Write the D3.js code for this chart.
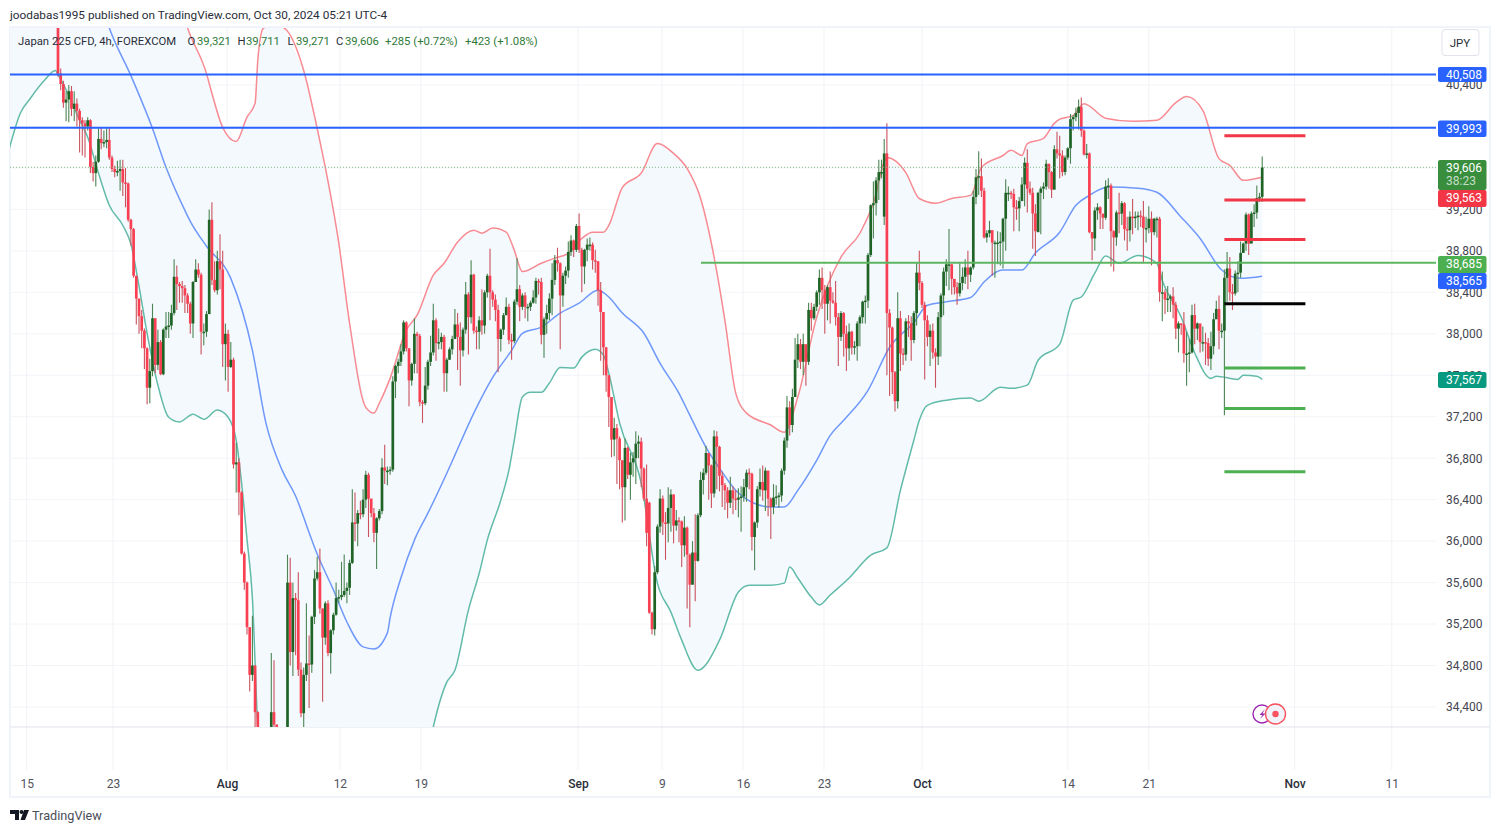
<!DOCTYPE html>
<html>
<head>
<meta charset="utf-8">
<script src="https://cdn.jsdelivr.net/npm/d3@7"></script>
<style>
  html, body { margin: 0; padding: 0; background: #fff; }
  svg { display: block; font-family: Roboto, sans-serif; }
</style>
</head>
<body>
<svg id="chart" width="1500" height="832"></svg>
<script>
// 4h closes, one row per 10 bars
var closes = [
  40510,40410,40230,40260,40340,40170,40220,40150,40060,40030,
  40000,40060,39610,39550,39660,39880,39840,39850,39870,39700,
  39590,39560,39570,39590,39460,39450,39100,39010,38560,38340,
  38170,38030,37860,37480,37640,38150,37700,37920,37610,38040,
  38070,38080,38200,38550,38480,38460,38440,38370,38290,38100,
  38500,38620,38570,38020,38020,38190,39100,38520,38420,38700,
  38620,37900,38000,37680,37750,36740,36760,36470,35880,35600,
  35170,34710,34800,34350,34100,33900,33700,33600,33800,34350,
  34230,34050,33900,33700,33650,35600,34930,35450,35430,34760,
  34340,34710,34820,34810,35270,35640,35700,35350,35070,35400,
  34920,35140,35290,35450,35460,35480,35520,35550,35790,36180,
  36170,36270,36260,36400,36640,36410,36270,36080,36220,36290,
  36710,36680,36680,36690,37540,37690,37730,37830,38110,37860,
  37550,37710,38000,37980,37340,37330,37500,37730,37820,38130,
  37910,37920,37970,37620,37750,37850,37950,38090,37970,37840,
  38040,38380,38160,38570,38030,38020,38130,38080,38400,38560,
  38400,38330,38230,37950,38040,38180,38260,37940,37930,38310,
  38430,38260,38370,38260,38260,38300,38350,38510,38500,37990,
  38140,38200,38340,38520,38710,38680,38370,38560,38610,38790,
  38900,38810,39040,38810,38650,38810,38860,38860,38710,38700,
  38420,38210,37870,37600,37390,36980,37090,36990,36780,36520,
  36900,36640,36760,36800,36940,36960,36700,36410,36080,35310,
  35150,35700,36140,36410,36180,36170,36320,36450,36150,36200,
  36190,35960,36130,35870,35580,35890,35810,36250,36590,36660,
  36850,36730,36460,37010,36910,36630,36540,36490,36370,36490,
  36410,36400,36420,36430,36520,36660,36650,36040,36180,36500,
  36570,36490,36680,36410,36330,36420,36430,36440,36680,36970,
  37290,37120,37390,37750,37900,37730,37900,37730,38230,38150,
  38260,38400,38540,38420,38290,38450,38320,38300,38160,37970,
  38200,38000,37860,38020,37870,37880,38100,38160,38310,38320,
  38760,39240,39260,39480,39560,39560,39740,38200,38060,37630,
  37350,38150,37810,37800,38120,38100,37940,38200,38590,38490,
  38280,38130,37970,38030,37820,37780,38160,38370,38600,38670,
  38670,38530,38450,38390,38490,38550,38640,38570,38640,39320,
  39510,39520,39380,38930,38970,39000,38880,38880,38880,38890,
  39110,39360,39360,39350,39220,39210,39280,39440,39650,39400,
  39360,39160,38990,39360,39400,39420,39640,39560,39390,39780,
  39740,39720,39560,39700,39790,40070,40090,40130,40190,39960,
  39730,39740,38980,38920,39190,39220,39160,39120,39420,39430,
  38990,38930,39170,39160,39260,39010,39000,39130,39120,39130,
  39140,39130,39020,39020,39110,38980,39110,39110,38400,38400,
  38330,38340,38360,38280,38050,38100,38090,37810,37810,37820,
  38180,38050,38100,37920,37920,37910,37760,37880,38140,38240,
  38030,38030,38540,38630,38400,38390,38580,38590,38780,38870,
  39150,38870,39160,39170,39310,39321,39606
];
var highs = [
  41300,40560,40440,40340,40400,40390,40340,40270,40170,40090,
  40060,40090,40070,39660,39720,39980,39990,39960,39980,39990,
  39720,39620,39670,39680,39680,39600,39460,39110,39020,38560,
  38340,38230,38050,37870,37760,38290,38150,38040,37940,38050,
  38210,38210,38280,38720,38660,38500,38510,38470,38390,38310,
  38510,38720,38680,38590,38100,38220,39200,39270,38700,38800,
  38960,38800,38100,38040,37920,37770,36950,36800,36480,35900,
  35610,35170,35280,34800,34360,34100,33900,33800,33900,34920,
  34850,34230,34060,33900,33750,35870,35840,35600,35500,35700,
  34830,34780,35400,35090,35280,35720,35850,35930,35350,35420,
  35430,35150,35310,35600,35530,35800,35870,35600,35820,36500,
  36470,36300,36390,36500,36680,36660,36410,36320,36230,36310,
  36800,36930,36720,36720,37590,37700,37760,37900,38130,38120,
  37860,37720,38150,38020,38000,37360,37680,37750,37980,38290,
  38150,38050,38010,37990,37770,37870,37980,38240,38200,38110,
  38060,38500,38400,38710,38580,38070,38170,38430,38420,38580,
  38820,38420,38380,38280,38050,38200,38350,38290,38000,38330,
  38730,38470,38390,38400,38290,38320,38420,38540,38530,38540,
  38160,38280,38390,38680,38760,38830,38690,38590,38650,38890,
  38950,38910,39060,39160,38830,38820,38920,38930,38880,38810,
  38700,38500,38200,37870,37600,37390,37190,37130,37010,36780,
  36990,36910,36850,36860,37060,37020,37000,36710,36740,36380,
  35320,35760,36160,36500,36440,36280,36520,36500,36450,36300,
  36230,36200,36240,36140,35880,36000,36260,36270,36670,36700,
  36920,36820,36740,37070,37060,36920,36670,36560,36520,36620,
  36530,36490,36510,36530,36600,36690,36700,36660,36190,36530,
  36700,36730,36710,36680,36420,36550,36540,36470,36700,37000,
  37400,37350,37470,37960,38000,37950,38000,37890,38300,38300,
  38290,38420,38620,38640,38470,38470,38600,38400,38510,38200,
  38220,38210,38080,38100,38030,37930,38120,38180,38320,38370,
  38780,39250,39470,39510,39680,39680,39880,40030,38240,38070,
  37640,38400,38220,37860,38150,38180,38170,38220,38690,38800,
  38510,38310,38180,38090,38100,37860,38210,38390,38640,38720,
  39010,38670,38470,38500,38680,38640,38720,38800,38650,39380,
  39590,39760,39690,39410,39000,39090,38950,38900,38990,38980,
  39120,39490,39420,39380,39400,39290,39320,39510,39700,39780,
  39470,39410,39250,39370,39420,39460,39680,39640,39570,39820,
  39950,39910,39770,39720,39800,40120,40110,40180,40260,40280,
  39970,39830,39750,38980,39220,39260,39230,39140,39480,39500,
  39450,39000,39190,39360,39280,39270,39130,39180,39300,39180,
  39180,39190,39280,39130,39230,39180,39120,39130,39130,38600,
  38430,38460,38380,38450,38310,38120,38100,38210,38020,37950,
  38280,38290,38110,38060,38070,38010,37960,38020,38200,38320,
  38370,38100,38620,38790,38740,38480,38610,38700,38890,38880,
  39170,39160,39180,39250,39430,39360,39711
];
var lows = [
  40480,40350,40180,40050,40040,40100,40050,40000,39750,39720,
  39700,39960,39550,39470,39420,39650,39780,39800,39790,39680,
  39560,39510,39520,39380,39330,39220,39080,38850,38540,38090,
  38000,37860,37660,37320,37330,37590,37620,37650,37600,37600,
  37960,37960,38040,38180,38230,38300,38300,38200,38200,38000,
  37960,38500,38540,37800,37890,37970,38190,38470,38400,38380,
  38430,37680,37550,37440,37670,36700,36470,36250,35870,35530,
  35100,34550,34650,34200,33900,33700,33600,33400,33600,33800,
  34200,34000,33800,33600,33500,33500,34800,34700,34900,34700,
  34300,34100,34650,34390,34730,35200,35620,35300,34450,35000,
  34890,34720,35100,35280,35400,35430,35460,35400,35480,35780,
  36000,35950,36210,36230,36320,36040,36230,35990,35730,36200,
  36260,36550,36540,36640,36670,37380,37620,37690,37800,37830,
  37300,37500,37620,37620,37300,37140,37310,37460,37690,37790,
  37740,37850,37850,37440,37440,37750,37800,37950,37650,37500,
  37780,38000,37800,38100,38000,37850,37850,37990,38000,38350,
  38130,38260,38120,37630,37830,37990,38180,37900,37750,37910,
  38280,38120,38230,38150,38120,38220,38290,38290,38380,37900,
  37770,38000,38130,38180,38470,38600,37850,38260,38480,38540,
  38750,38740,38790,38780,38400,38480,38700,38800,38620,38590,
  38270,37740,37600,37440,37100,36810,36820,36550,36500,36180,
  36200,36600,36400,36620,36550,36800,36520,36390,35950,35300,
  35100,35090,35680,36080,36060,35820,35990,36090,35980,36100,
  35990,35750,35850,35350,35170,35580,35420,35800,36230,36450,
  36640,36400,36320,36420,36500,36480,36330,36300,36220,36320,
  36260,36300,36230,36090,36380,36380,36500,35910,35720,36130,
  36430,36390,36290,36240,36020,36260,36350,36320,36380,36640,
  36900,37020,37050,37450,37670,37660,37600,37500,37700,38030,
  38130,38220,38280,38240,38000,38130,38100,38290,38080,37690,
  37930,37780,37640,37740,37800,37800,37740,37880,38100,38100,
  38250,38740,38920,39140,39290,39500,39050,37600,37400,37420,
  37250,37280,37640,37700,37740,37970,37740,37910,38080,38420,
  38250,37560,37880,37690,37760,37480,37700,37780,38180,38460,
  38420,38380,38380,38280,38360,38420,38480,38430,38500,38620,
  39250,39340,39320,38920,38880,38930,38560,38540,38670,38660,
  38630,38800,39280,39300,38990,39100,38990,39380,39230,39170,
  39340,38820,38750,38990,38960,39300,39390,39400,39310,39400,
  39690,39500,39520,39530,39680,39640,39960,40050,39970,39900,
  39720,39690,38970,38710,38800,39100,39010,39010,39100,39300,
  38650,38600,38850,38970,39050,38900,38800,38890,38960,39020,
  39000,39030,38680,38880,38970,38660,38950,38930,38310,38120,
  38190,38210,38210,38150,37950,37820,37990,37720,37500,37630,
  37810,37900,37940,37820,37830,37700,37690,37650,37800,38160,
  37850,37960,37215,38310,38320,38230,38370,38400,38540,38820,
  38800,38760,38980,39030,39110,39271,39271
];
// Bars whose open does not sit on the close before them
var gapBars = [0, 219, 306, 363];
var gapOpens = [41300, 36370, 39130, 38980];

var basisBars = [15,19,27,35,40,47,49,55,64,72,77,83,88,94,96,102,107,113,117,122,123,127,132,137,144,147,154,161,168,172,179,186,193,200,204,209,217,223,230,234,240,246,251,257,264,269,274,281,286,291,300,308,317,322,328,338,343,350,357,362,371,377,382,389,400,407,416,423,431,438,446];
var basisVals = [41270,40950,40490,39980,39606,39190,39085,38845,38535,37840,37140,36685,36435,36010,35875,35530,35220,34980,34960,35115,35260,35645,36010,36270,36655,36830,37235,37580,37840,38005,38065,38200,38295,38420,38355,38200,38005,37715,37425,37215,36905,36665,36490,36375,36330,36330,36490,36780,37020,37165,37455,37870,38110,38275,38305,38350,38500,38615,38615,38780,38980,39240,39335,39415,39405,39365,39125,38920,38615,38535,38555];
var upperBars = [-18,30,44,48,55,57,61,66,70,73,74,76,80,84,91,96,99,104,108,114,117,119,123,129,133,139,143,148,154,157,161,166,169,172,179,184,189,194,198,202,204,209,216,222,228,233,238,243,247,251,255,264,269,274,281,290,297,302,307,314,319,325,331,338,342,350,353,357,359,365,369,371,376,380,388,398,407,414,418,424,430,434,439,446];
var upperVals = [42500,42500,41300,40950,40510,40320,39990,39855,40090,40225,40640,40945,40985,40945,40540,39980,39605,38875,38100,37290,37235,37330,37570,38035,38180,38565,38680,38885,39000,38970,39020,38980,38805,38600,38680,38730,38775,38920,38980,38980,39045,39410,39550,39835,39740,39595,39305,38740,38130,37430,37235,37120,37050,37390,38160,38740,38970,39260,39700,39555,39305,39260,39305,39335,39605,39720,39770,39720,39835,39885,40030,40070,40105,40220,40080,40050,40060,40230,40290,40155,39690,39625,39480,39510];
var lowerBars = [-18,-14,-10,-5,-1,0,4,8,11,15,19,24,27,30,33,37,41,45,50,54,59,63,66,68,70,72,74,80,100,125,139,144,147,152,156,159,164,167,169,172,175,179,182,186,191,194,199,202,204,208,216,222,227,231,237,245,252,256,264,269,271,274,279,282,286,293,301,307,312,317,319,322,329,338,341,349,353,359,363,371,376,379,384,388,393,400,407,409,416,421,427,429,437,439,444,446];
var lowerVals = [39790,40125,40280,40445,40540,40500,40300,40060,39895,39550,39240,39045,38865,38460,38005,37505,37195,37150,37225,37175,37265,37195,36975,36560,36020,35450,34207,33000,31000,31500,34207,34640,34755,35335,35690,36010,36395,36685,36975,37390,37435,37435,37525,37675,37670,37775,37850,37795,37620,37140,36560,35595,35315,35045,34755,35045,35510,35575,35575,35595,35750,35645,35460,35385,35480,35645,35865,35935,36490,36975,37165,37310,37360,37380,37350,37485,37475,37505,37745,37900,38325,38355,38585,38750,38680,38755,38680,38515,38160,37815,37570,37590,37560,37600,37590,37560];

// Axis ticks
var priceTicks = [34400,34800,35200,35600,36000,36400,36800,37200,37600,38000,38400,38800,39200,39600,40000,40400];
var timeTickBars = [-11.6,20.4,62.6,104.4,134.4,192.6,223.7,253.7,283.7,320,374,404,458,494];
var timeTickLabels = ["15","23","Aug","12","19","Sep","9","16","23","Oct","14","21","Nov","11"];
var monthLabels = ["Aug","Sep","Oct","Nov"];

// Drawn levels
var blueLevels = [40508, 39993];
var greenLevel = 38685;
var lastPrice = 39606;
var levelBars = [432, 462];
var redLevels = [39910, 39290, 38910];
var blackLevels = [38290];
var greenLevels = [37670, 37280, 36670];

// Right hand price labels
var badgeTexts = ["40,508","39,993","39,606","39,563","38,685","38,565","37,567"];
var badgeColors = ["#2962ff","#2962ff","#388e3c","#f23645","#4caf50","#2962ff","#089981"];
var badgeTops = [67,120.5,160,190,256,273,372];
var badgeHeights = [15,16.5,30,17,17,16,16];

var svg = d3.select("#chart");
var x = d3.scaleLinear().domain([0, 446]).range([58, 1262.2]);
var y = d3.scaleLinear().domain([34400, 40400]).range([707, 85]);

var plotLeft = 10, plotRight = 1436, plotTop = 28, plotBottom = 727;

// Frame around the whole chart
svg.append("rect").attr("x", plotLeft).attr("y", plotTop - 1)
  .attr("width", 1480).attr("height", 770)
  .attr("fill", "none").attr("stroke", "#f0f3fa").attr("stroke-width", 2);

// Grid
svg.append("g").selectAll("line").data(priceTicks).join("line")
  .attr("x1", plotLeft).attr("x2", plotRight)
  .attr("y1", d => y(d)).attr("y2", d => y(d))
  .attr("stroke", "#f3f4f8");
svg.append("g").selectAll("line").data(timeTickBars).join("line")
  .attr("x1", d => x(d)).attr("x2", d => x(d))
  .attr("y1", plotTop).attr("y2", 770)
  .attr("stroke", "#f1f2f6");
svg.append("line").attr("x1", plotLeft).attr("x2", 1490)
  .attr("y1", plotBottom).attr("y2", plotBottom)
  .attr("stroke", "#e0e3eb").attr("stroke-width", 1.2);

svg.append("clipPath").attr("id", "plotClip").append("rect")
  .attr("x", plotLeft).attr("y", plotTop)
  .attr("width", plotRight - plotLeft).attr("height", plotBottom - plotTop);
var plot = svg.append("g").attr("clip-path", "url(#plotClip)");

// Bands
var upper = upperBars.map((b, i) => [b, upperVals[i]]);
var basis = basisBars.map((b, i) => [b, basisVals[i]]);
var lower = lowerBars.map((b, i) => [b, lowerVals[i]]);
var bandLine = d3.line().x(d => x(d[0])).y(d => y(d[1])).curve(d3.curveMonotoneX);
var edgeLine = d3.line().x(d => x(d[0])).y(d => y(d[1]));

plot.append("path").attr("d", edgeLine(upper.concat(lower.slice().reverse())) + "Z")
  .attr("fill", "#f4f9fe").attr("stroke", "none");
plot.append("path").attr("d", bandLine(upper))
  .attr("fill", "none").attr("stroke", "#f88a92").attr("stroke-width", 1.5);
plot.append("path").attr("d", bandLine(basis))
  .attr("fill", "none").attr("stroke", "#6f98fb").attr("stroke-width", 1.5);
plot.append("path").attr("d", bandLine(lower))
  .attr("fill", "none").attr("stroke", "#62bba9").attr("stroke-width", 1.5);

// Candles
var candles = closes.map(function(c, i) {
  var gap = gapBars.indexOf(i);
  var open = gap >= 0 ? gapOpens[gap] : closes[i - 1];
  return {bar: i, open: open, high: highs[i], low: lows[i], close: c};
});
var upColor = "#1f6426", downColor = "#f93f52";

plot.append("g").selectAll("line").data(candles).join("line")
  .attr("x1", d => x(d.bar)).attr("x2", d => x(d.bar))
  .attr("y1", d => y(d.high)).attr("y2", d => y(d.low))
  .attr("stroke", d => d.close >= d.open ? "#4c8553" : "#c9525c")
  .attr("stroke-width", 1.1);
plot.append("g").selectAll("rect").data(candles).join("rect")
  .attr("x", d => x(d.bar) - 1.35)
  .attr("width", 2.7)
  .attr("y", d => y(Math.max(d.open, d.close)))
  .attr("height", d => Math.max(1.5, Math.abs(y(d.open) - y(d.close))))
  .attr("fill", d => d.close >= d.open ? upColor : downColor);

// Level lines
plot.append("line").attr("x1", plotLeft).attr("x2", plotRight)
  .attr("y1", y(lastPrice)).attr("y2", y(lastPrice))
  .attr("stroke", "#7dbb82").attr("stroke-width", 1).attr("stroke-dasharray", "1 2");
plot.append("g").selectAll("line").data(blueLevels).join("line")
  .attr("x1", plotLeft).attr("x2", plotRight)
  .attr("y1", d => y(d) + 0.6).attr("y2", d => y(d) + 0.6)
  .attr("stroke", "#2962ff").attr("stroke-width", 2);
plot.append("line").attr("x1", 701).attr("x2", plotRight)
  .attr("y1", y(greenLevel)).attr("y2", y(greenLevel))
  .attr("stroke", "#5cb660").attr("stroke-width", 2);

function drawSegments(levels, color) {
  plot.append("g").selectAll("line").data(levels).join("line")
    .attr("x1", x(levelBars[0])).attr("x2", x(levelBars[1]))
    .attr("y1", d => y(d)).attr("y2", d => y(d))
    .attr("stroke", color).attr("stroke-width", 3);
}
drawSegments(redLevels, "#f23645");
drawSegments(blackLevels, "#000000");
drawSegments(greenLevels, "#4caf50");

// Price axis
var priceAxis = d3.axisRight(y).tickValues(priceTicks).tickFormat(d3.format(",")).tickSize(0).tickPadding(0);
var priceG = svg.append("g").attr("transform", "translate(1446,0)").call(priceAxis);
priceG.select(".domain").remove();
priceG.selectAll("text").attr("fill", "#434651").attr("font-size", 12)
  .attr("font-family", "Roboto, sans-serif").style("letter-spacing", "0.1px");

// Time axis
var timeAxis = d3.axisBottom(x).tickValues(timeTickBars)
  .tickFormat((d, i) => timeTickLabels[i]).tickSize(0).tickPadding(0);
var timeG = svg.append("g").attr("transform", "translate(0,779)").call(timeAxis);
timeG.select(".domain").remove();
timeG.selectAll("text").attr("font-size", 12).attr("font-family", "Roboto, sans-serif")
  .attr("fill", (d, i) => monthLabels.indexOf(timeTickLabels[i]) >= 0 ? "#2a2e39" : "#50535e")
  .attr("font-weight", (d, i) => monthLabels.indexOf(timeTickLabels[i]) >= 0 ? 500 : 400);

// Price labels on the right
badgeTexts.forEach(function(text, i) {
  svg.append("rect").attr("x", 1438).attr("y", badgeTops[i])
    .attr("width", 48.5).attr("height", badgeHeights[i]).attr("rx", 2)
    .attr("fill", badgeColors[i]);
  svg.append("text").attr("x", 1446).attr("y", badgeTops[i] + 12)
    .attr("fill", "#fff").attr("font-size", 12).text(text);
});
svg.append("text").attr("x", 1446).attr("y", 185)
  .attr("fill", "#c4dcc6").attr("font-size", 12).text("38:23");

// Currency button
svg.append("rect").attr("x", 1442).attr("y", 29.5).attr("width", 37).attr("height", 26).attr("rx", 3)
  .attr("fill", "#fff").attr("stroke", "#e0e3eb");
svg.append("text").attr("x", 1460).attr("y", 47).attr("text-anchor", "middle")
  .attr("fill", "#2a2e39").attr("font-size", 11.5).text("JPY");

// Header and legend
svg.append("text").attr("x", 10).attr("y", 18.5).attr("fill", "#2a2e39").attr("font-size", 11.8)
  .text("joodabas1995 published on TradingView.com, Oct 30, 2024 05:21 UTC-4");

var legendTexts = ["Japan 225 CFD, 4h, FOREXCOM","O","39,321","H","39,711","L","39,271","C","39,606","+285 (+0.72%)","+423 (+1.08%)"];
var legendStarts = [18,187.5,197,237.5,246,287.5,296,336,345,385,465];
var legendDark = [true,true,false,true,false,true,false,true,false,false,false];
legendTexts.forEach(function(text, i) {
  svg.append("text").attr("x", legendStarts[i]).attr("y", 45)
    .attr("font-size", 11.3).attr("fill", legendDark[i] ? "#2a2e39" : "#2f7a38").text(text);
});

// Small markers near the last bar
svg.append("circle").attr("cx", 1262).attr("cy", 714).attr("r", 9)
  .attr("fill", "#fff").attr("stroke", "#9c27b0").attr("stroke-width", 1.4);
svg.append("path").attr("d", "M1265 709 L1259.5 715 L1262.5 715 L1260 719 L1265.5 713.5 L1262.5 713.5 Z")
  .attr("fill", "#9c27b0");
svg.append("circle").attr("cx", 1275.5).attr("cy", 714).attr("r", 10)
  .attr("fill", "#f0f3fa").attr("stroke", "#f7525f").attr("stroke-width", 1.4);
svg.append("circle").attr("cx", 1275.5).attr("cy", 714).attr("r", 3.2).attr("fill", "#f7525f");

// Logo at the bottom
var logo = svg.append("g").attr("fill", "#131722");
logo.append("path").attr("d", "M10 810 H19 V820 H15 V814 H10 Z");
logo.append("circle").attr("cx", 21.5).attr("cy", 812).attr("r", 2);
logo.append("path").attr("d", "M24 810 H29 L25 820 H20.5 Z");
svg.append("text").attr("x", 32).attr("y", 819.5).attr("fill", "#4a4e59").attr("font-size", 12.7)
  .text("TradingView");
</script>
</body>
</html>
